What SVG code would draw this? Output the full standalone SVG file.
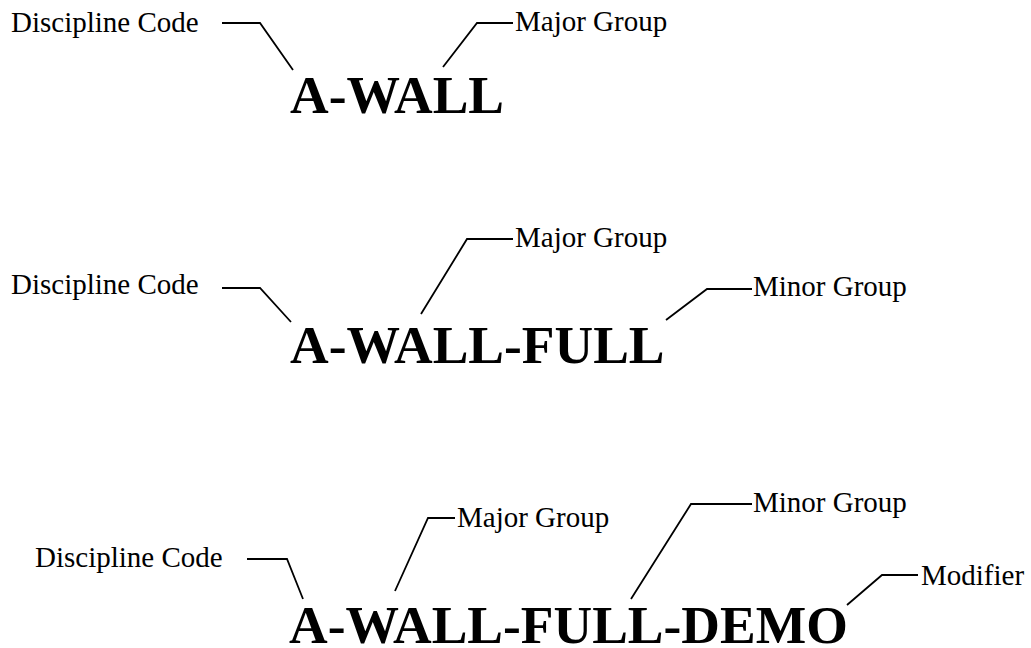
<svg xmlns="http://www.w3.org/2000/svg" width="1031" height="648" viewBox="0 0 1031 648">
<style>
.lbl{font-family:"Liberation Serif","Times New Roman",serif;font-size:29px;fill:#000}
.code{font-family:"Liberation Serif","Times New Roman",serif;font-size:53.5px;font-weight:bold;fill:#000}
.ln{fill:none;stroke:#000;stroke-width:1.8}
</style>
<rect width="1031" height="648" fill="#fff"/>
<g id="connectors">
<path class="ln" d="M222 23 H260 L293 70"/>
<path class="ln" d="M443 67 L477 23 H513"/>
<path class="ln" d="M222 288 H260 L291 322"/>
<path class="ln" d="M421 314 L467 239 H513"/>
<path class="ln" d="M666 320 L707 289 H752"/>
<path class="ln" d="M247 559 H287 L303 599"/>
<path class="ln" d="M395 591 L428 518 H455"/>
<path class="ln" d="M631 599 L691 504 H752"/>
<path class="ln" d="M847 605 L882 575 H918"/>
</g>
<g id="example1">
<text class="lbl" x="11" y="32">Discipline Code</text>
<text class="lbl" x="515" y="31">Major Group</text>
<text class="code" x="290" y="113">A-WALL</text>
</g>
<g id="example2">
<text class="lbl" x="11" y="294">Discipline Code</text>
<text class="lbl" x="515" y="247">Major Group</text>
<text class="lbl" x="753" y="296">Minor Group</text>
<text class="code" x="290" y="363">A-WALL-FULL</text>
</g>
<g id="example3">
<text class="lbl" x="35" y="567">Discipline Code</text>
<text class="lbl" x="457" y="527">Major Group</text>
<text class="lbl" x="753" y="512">Minor Group</text>
<text class="lbl" x="921" y="585">Modifier</text>
<text class="code" x="289" y="643">A-WALL-FULL-DEMO</text>
</g>
</svg>
